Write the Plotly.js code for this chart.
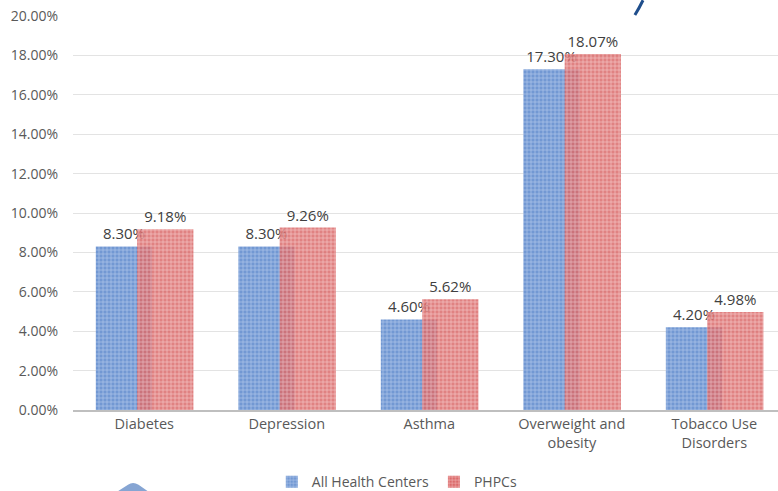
<!DOCTYPE html>
<html>
<head>
<meta charset="utf-8">
<script src="https://cdn.plot.ly/plotly-3.0.1.min.js"></script>
<style>html,body{margin:0;padding:0;background:#fff;}#chart{width:778px;height:491px;}</style>
</head>
<body>
<div id="chart"></div>
<script>
const categories = ["Diabetes", "Depression", "Asthma", "Overweight and<br>obesity", "Tobacco Use<br>Disorders"];
const allHealthCenters = [8.30, 8.30, 4.60, 17.30, 4.20];
const phpcs = [9.18, 9.26, 5.62, 18.07, 4.98];
const seriesNames = ["All Health Centers", "PHPCs"];
const yTicks = [0, 2, 4, 6, 8, 10, 12, 14, 16, 18, 20];

const font = "'Open Sans', 'Noto Sans', sans-serif";

const traces = [
  {
    type: "bar", name: seriesNames[0], x: categories, y: allHealthCenters,
    width: 0.395, offset: -0.34,
    marker: {color: "#7399d3", opacity: 1,
      pattern: {shape: "+", bgcolor: "#7298d3", fgcolor: "#b2c7eb", size: 4, solidity: 0.3, fillmode: "replace"}},
    text: allHealthCenters.map(v => v.toFixed(2) + "%"),
    textposition: "outside", cliponaxis: false,
    textfont: {family: font, size: 15, color: "#404040"},
    hoverinfo: "skip"
  },
  {
    type: "bar", name: seriesNames[1], x: categories, y: phpcs,
    width: 0.395, offset: -0.05,
    marker: {color: "#dc7272", opacity: 0.85,
      pattern: {shape: "+", bgcolor: "#db6c6c", fgcolor: "#f2baba", size: 4, solidity: 0.3, fillmode: "replace"}},
    text: phpcs.map(v => v.toFixed(2) + "%"),
    textposition: "outside", cliponaxis: false,
    textfont: {family: font, size: 15, color: "#404040"},
    hoverinfo: "skip"
  }
];

const layout = {
  width: 778, height: 491,
  margin: {l: 73, r: 0, t: 16, b: 81, pad: 0, autoexpand: false},
  paper_bgcolor: "#ffffff", plot_bgcolor: "#ffffff",
  barmode: "overlay",
  font: {family: font, size: 14, color: "#595959"},
  showlegend: true,
  legend: {orientation: "h", x: 0.46, xanchor: "center", y: -0.183, yanchor: "middle",
    font: {family: font, size: 14, color: "#595959"}, itemwidth: 30, tracegroupgap: 0},
  xaxis: {
    type: "category", range: [-0.5, 4.447], showgrid: false, zeroline: false,
    showline: true, linecolor: "#bfbfbf", linewidth: 1.5, ticks: "",
    tickfont: {family: font, size: 14.5, color: "#595959"}, fixedrange: true
  },
  yaxis: {
    range: [0, 20], tickvals: yTicks, ticktext: yTicks.map(v => v.toFixed(2) + "%"),
    showgrid: true, gridcolor: "#e3e3e3", gridwidth: 1, zeroline: false, showline: false,
    ticks: "", ticklabelstandoff: 14,
    tickfont: {family: font, size: 14, color: "#595959"}, fixedrange: true
  },
  shapes: [
    {type: "path", xref: "paper", yref: "paper",
     path: "M 0.797 1.0025 Q 0.803 1.02 0.8085 1.04", line: {color: "#1f4e8c", width: 3}, layer: "above"},
    {type: "path", xref: "paper", yref: "paper",
     path: "M 0.0638 -0.206 L 0.078 -0.19 Q 0.085 -0.18 0.093 -0.19 L 0.106 -0.206 Z",
     fillcolor: "#86a5d3", line: {width: 0}, layer: "above"}
  ]
};

Plotly.newPlot("chart", traces, layout, {displayModeBar: false, staticPlot: true});
</script>
</body>
</html>
